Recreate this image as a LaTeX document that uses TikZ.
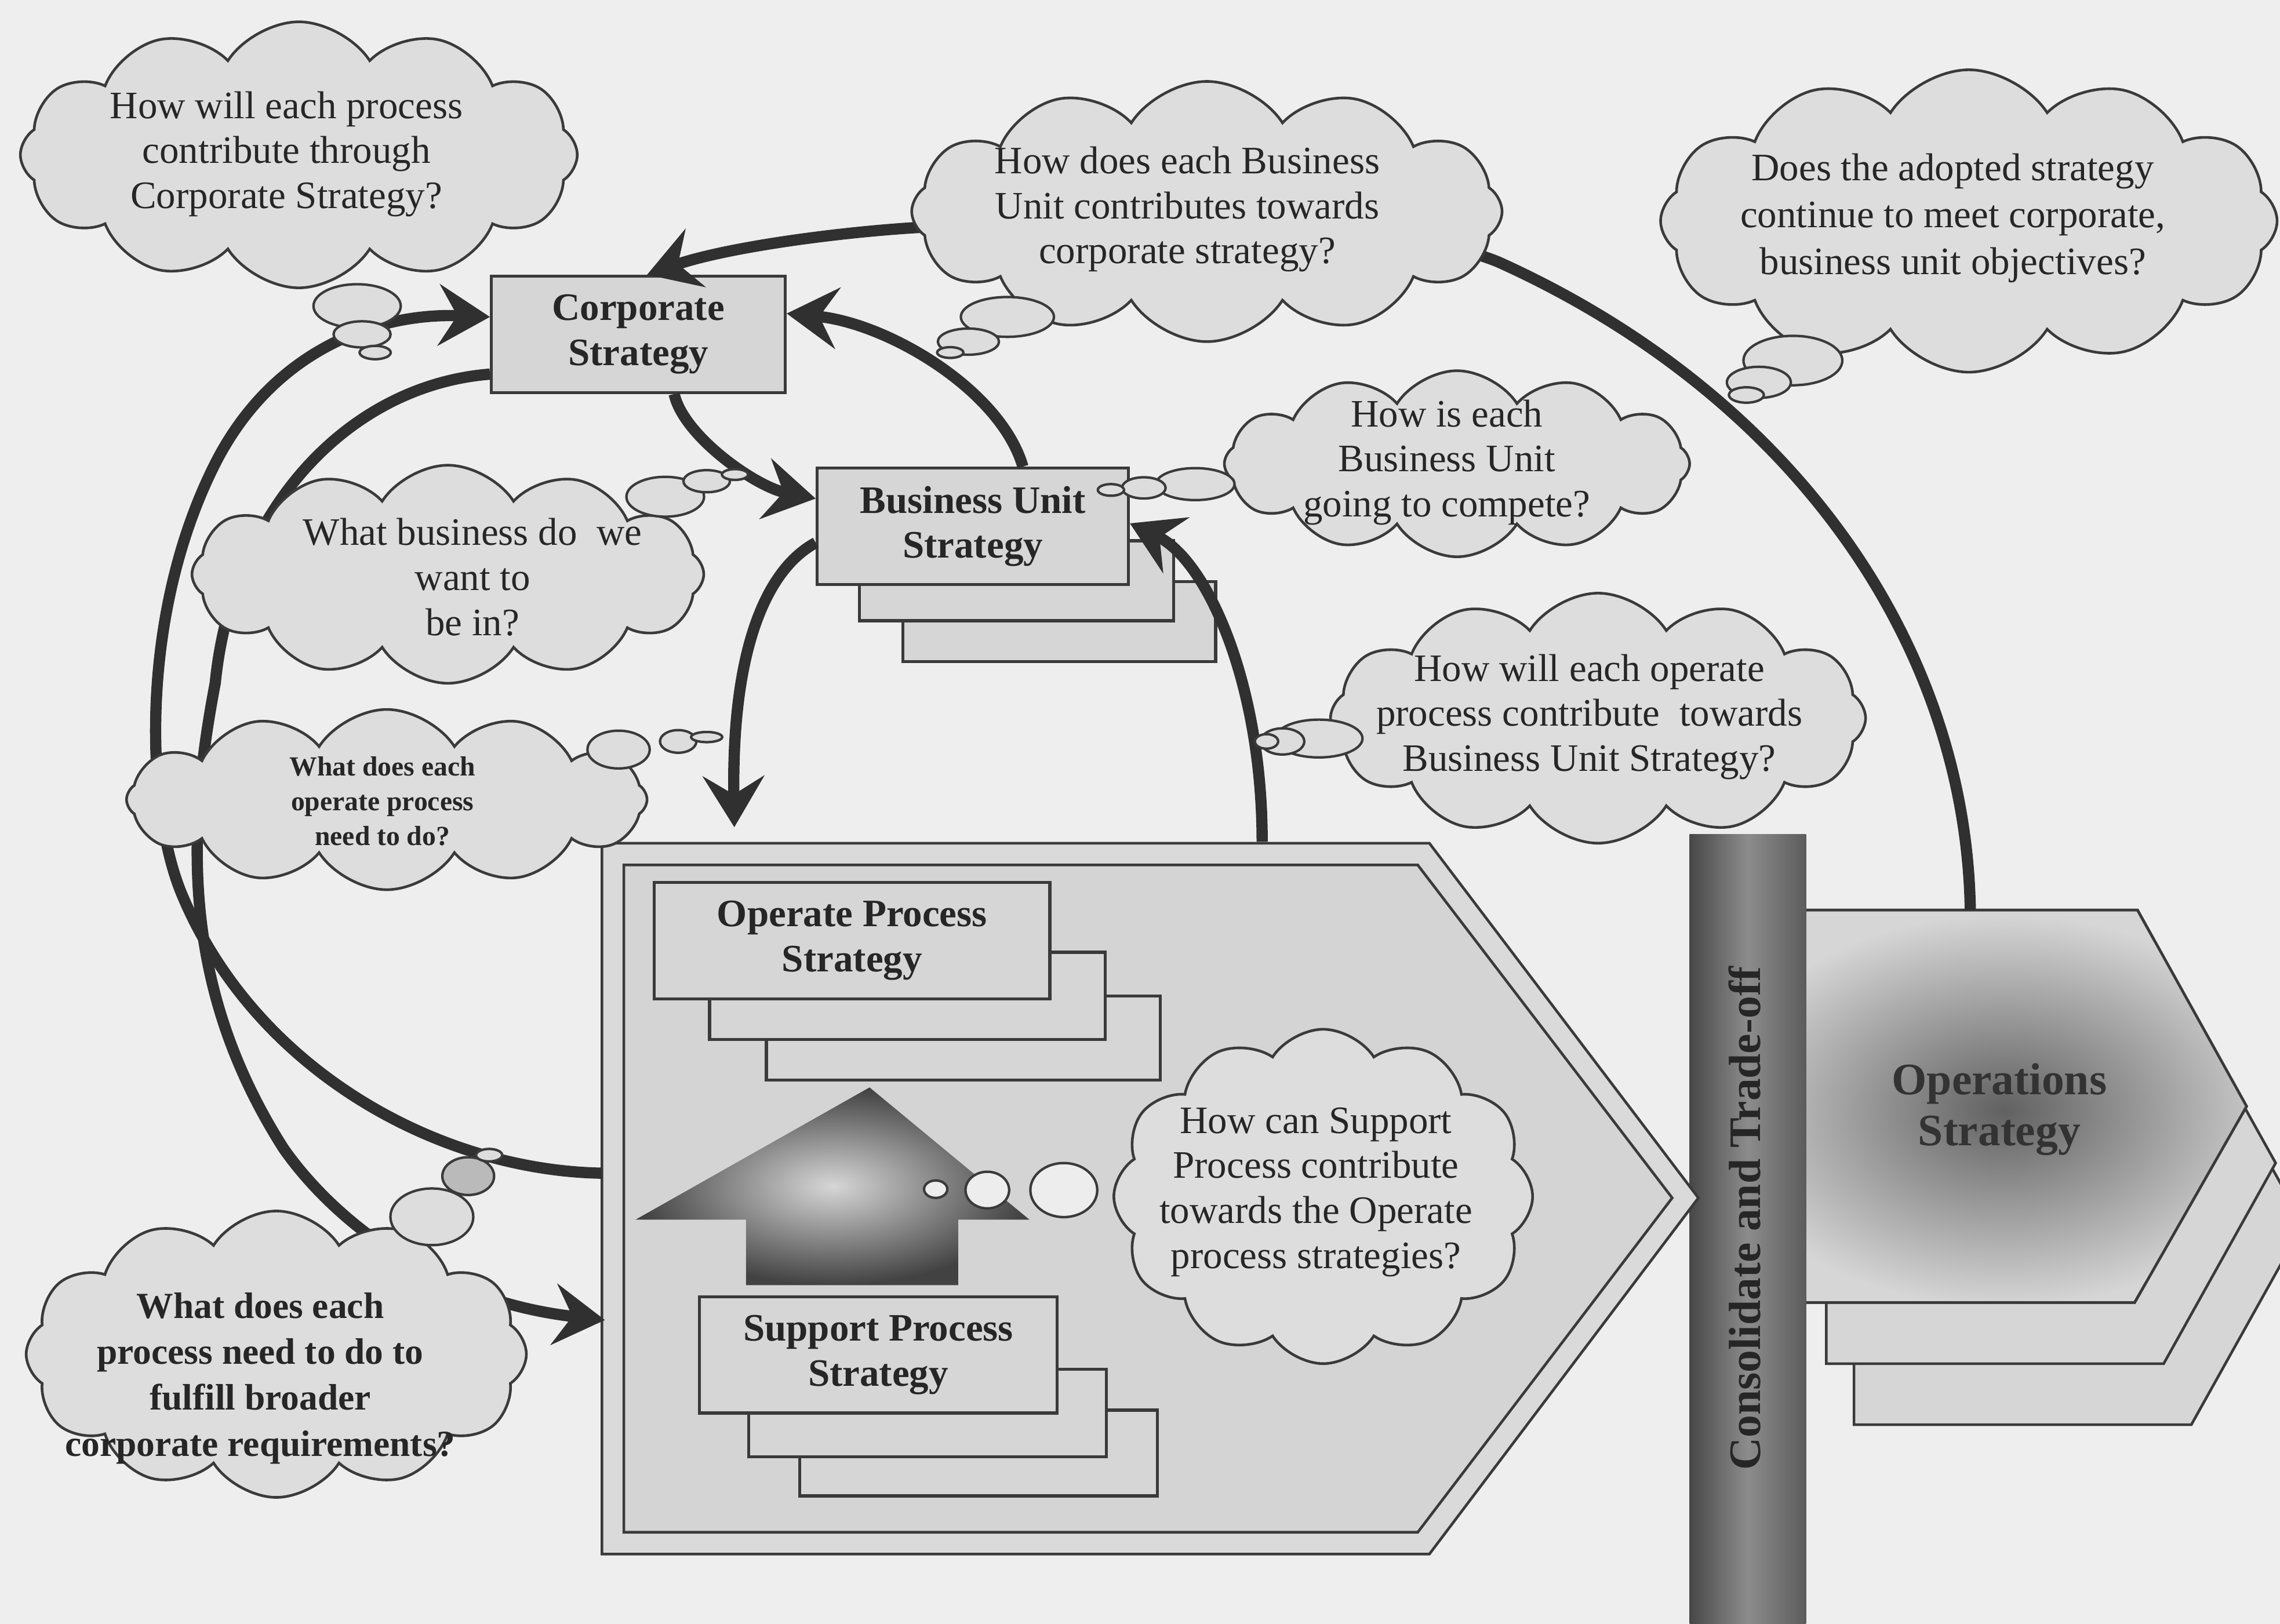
\documentclass[tikz,border=0pt]{standalone}
\usepackage{fontspec}
\setmainfont{Liberation Serif}
\usetikzlibrary{arrows.meta,shapes.symbols}

\definecolor{bg}{HTML}{EEEEEE}
\definecolor{boxfill}{HTML}{D6D6D6}
\definecolor{cloudfill}{HTML}{DDDDDD}
\definecolor{pentfill}{HTML}{DADADA}
\definecolor{pentinner}{HTML}{D4D4D4}
\definecolor{ink}{HTML}{3A3A3A}
\definecolor{arrowink}{HTML}{303030}
\definecolor{txt}{HTML}{262626}

\def\pu{0.025cm}

\begin{document}
\begin{tikzpicture}[x=0.025cm,y=-0.025cm,
  stratbox/.style={draw=ink, line width=1.5pt, fill=boxfill, inner sep=0pt, align=center,
    text=txt, font=\fontsize{19}{22}\selectfont\bfseries},
  backbox/.style={draw=ink, line width=1.5pt, fill=boxfill},
  thought/.style={cloud, cloud puffs=12, cloud puff arc=115, cloud ignores aspect,
    draw=ink, line width=1.3pt, fill=cloudfill, inner sep=0pt},
  bubble/.style={draw=ink, line width=1.2pt, fill=cloudfill},
  qtext/.style={align=center, inner sep=0pt, text=txt, font=\fontsize{19}{22}\selectfont},
  flow/.style={draw=arrowink, line width=5.5pt, -{Stealth[length=25pt,width=30pt,inset=9pt]}},
]
\useasboundingbox (0,0) rectangle (1568,1117);
\fill[bg] (0,0) rectangle (1568,1117);

% ---------- operations strategy (stacked pentagons) ----------
\filldraw[fill=boxfill, draw=ink, line width=1.3pt]
  (1275,704) -- (1507,704) -- (1584,842) -- (1507,980) -- (1275,980) -- cycle;
\filldraw[fill=boxfill, draw=ink, line width=1.3pt]
  (1256,662) -- (1488,662) -- (1565,800) -- (1488,938) -- (1256,938) -- cycle;
\filldraw[fill=boxfill, draw=ink, line width=1.3pt]
  (1240,626) -- (1470,626) -- (1545,761) -- (1468,896) -- (1240,896) -- cycle;
\begin{scope}
  \clip (1240,626) -- (1470,626) -- (1545,761) -- (1468,896) -- (1240,896) -- cycle;
  \shade[inner color=black!62, outer color=boxfill] (1378,764) ellipse [x radius=200, y radius=135];
\end{scope}
\draw[draw=ink, line width=1.3pt]
  (1240,626) -- (1470,626) -- (1545,761) -- (1468,896) -- (1240,896) -- cycle;
\node[align=center, text=black!80, font=\fontsize{22}{25}\selectfont\bfseries] (ops) at (1375,763)
  {Operations\\Strategy};
\coordinate (opsTop) at (1355,626);

% ---------- consolidate bar ----------
\shade[left color=black!72, right color=black!64, middle color=black!45]
  (1162,574) rectangle (1242,1117);
\node[rotate=90, text=black!85, font=\fontsize{22}{24}\selectfont\bfseries] (trade) at (1200,838)
  {Consolidate and Trade-off};

% ---------- process pentagon ----------
\filldraw[fill=pentfill, draw=ink, line width=1.3pt]
  (414,580) -- (983,580) -- (1168,824) -- (983,1069) -- (414,1069) -- cycle;
\filldraw[fill=pentinner, draw=ink, line width=1.3pt]
  (429,595) -- (975,595) -- (1150,824) -- (975,1054) -- (429,1054) -- cycle;
\coordinate (procIn) at (414,807);
\coordinate (procArr) at (416,908);
\coordinate (procDown) at (505,569);
\coordinate (procUp) at (868,579);

% operate process stack
\draw[backbox] (527,685) rectangle (798,743);
\draw[backbox] (488,655) rectangle (760,715);
\node[stratbox, minimum width=272*\pu, minimum height=80*\pu] (operate) at (586,647)
  {Operate Process\\Strategy};

% support process stack
\draw[backbox] (550,970) rectangle (796,1029);
\draw[backbox] (515,942) rectangle (761,1002);
\node[stratbox, minimum width=246*\pu, minimum height=80*\pu] (support) at (604,932)
  {Support Process\\Strategy};

% shaded block arrow from support to operate
\shade[inner color=black!16, outer color=black!74]
  (598,748) -- (708,839) -- (659,839) -- (659,884) -- (513,884) -- (513,839) -- (437,839) -- cycle;

% ---------- corporate and business unit ----------
\node[stratbox, minimum width=202*\pu, minimum height=80*\pu] (corp) at (439,230)
  {Corporate\\Strategy};
\draw[backbox] (621,400) rectangle (836,455);
\draw[backbox] (591,372) rectangle (807,427);
\node[stratbox, minimum width=214*\pu, minimum height=80*\pu] (bu) at (669,362)
  {Business Unit\\Strategy};

% ---------- connectors ----------
% process -> corporate (outer left loop)
\draw[flow] (procIn) .. controls (300,805) and (175,735) .. (125,615)
  .. controls (100,555) and (95,420) .. (150,315)
  .. controls (190,240) and (260,215) .. (corp.west |- 0,218);
% corporate -> process (inner left loop)
\draw[flow] (corp.195) .. controls (240,265) and (160,350) .. (148,470)
  .. controls (128,575) and (125,680) .. (195,790)
  .. controls (230,840) and (300,895) .. (procArr);
% operations -> corporate (large right loop)
\draw[flow] (opsTop) .. controls (1352,440) and (1230,270) .. (1030,180)
  .. controls (950,148) and (760,150) .. (640,156)
  .. controls (580,159) and (500,170) .. (corp.north -| 445,0);
% corporate -> business unit
\draw[flow] (corp.-59) .. controls (470,300) and (520,335) .. (bu.170);
% business unit -> corporate
\draw[flow] (bu.50) .. controls (688,268) and (610,222) .. (corp.8);
% business unit -> process
\draw[flow] (bu.186) .. controls (530,390) and (503,440) .. (procDown);
% process -> business unit
\draw[flow] (procUp) .. controls (868,470) and (830,385) .. (bu.east |- 0,360);

% ---------- thought clouds ----------
\node[thought, minimum width=383*\pu, minimum height=183*\pu] (q1) at (205.5,106.5) {};
\node[qtext] (t1) at (197,106) {How will each process\\contribute through\\Corporate Strategy?};
\draw[bubble] (245.6,210.5) ellipse [x radius=30, y radius=15];
\draw[bubble] (249,230) ellipse [x radius=19.6, y radius=9];
\draw[bubble] (258,242.5) ellipse [x radius=10.7, y radius=4.6];

\node[thought, minimum width=406*\pu, minimum height=179*\pu] (q2) at (830,145.5) {};
\node[qtext] (t2) at (816.5,144) {How does each Business\\Unit contributes towards\\corporate strategy?};
\draw[bubble] (692.8,218) ellipse [x radius=32, y radius=13.7];
\draw[bubble] (666,235) ellipse [x radius=21, y radius=9];
\draw[bubble] (653.5,242.5) ellipse [x radius=9, y radius=3.7];

\node[thought, minimum width=424*\pu, minimum height=208*\pu] (q3) at (1354,152) {};
\node[qtext, font=\fontsize{19}{23}\selectfont] (t3) at (1343,150)
  {Does the adopted strategy\\continue to meet corporate,\\business unit objectives?};
\draw[bubble] (1233,248) ellipse [x radius=34, y radius=17];
\draw[bubble] (1209.6,263) ellipse [x radius=22, y radius=10.7];
\draw[bubble] (1201,271.7) ellipse [x radius=12, y radius=5.3];

\node[thought, minimum width=320*\pu, minimum height=128*\pu] (q4) at (1002,319) {};
\node[qtext] (t4) at (995,318) {How is each\\Business Unit\\going to compete?};
\draw[bubble] (822,333) ellipse [x radius=27, y radius=11];
\draw[bubble] (786.6,335.6) ellipse [x radius=15, y radius=7.3];
\draw[bubble] (764,337) ellipse [x radius=9, y radius=4];

\node[thought, minimum width=352*\pu, minimum height=150*\pu] (q5) at (308,395) {};
\node[qtext] (t5) at (325,397) {What business do\ \ we\\want to\\be in?};
\draw[bubble] (457.5,341.7) ellipse [x radius=26.7, y radius=13.7];
\draw[bubble] (486,331) ellipse [x radius=16, y radius=7.6];
\draw[bubble] (505.5,326.4) ellipse [x radius=9, y radius=3.7];

\node[thought, minimum width=358*\pu, minimum height=124*\pu] (q6) at (266,550) {};
\node[qtext, font=\fontsize{13.5}{17}\selectfont\bfseries] (t6) at (263,551)
  {What does each\\operate process\\need to do?};
\draw[bubble] (425.4,515.6) ellipse [x radius=21.4, y radius=13];
\draw[bubble] (466.4,510) ellipse [x radius=12.5, y radius=7.8];
\draw[bubble] (486,507) ellipse [x radius=10.7, y radius=3.5];

\node[thought, minimum width=368*\pu, minimum height=172*\pu] (q7) at (1099,494) {};
\node[qtext] (t7) at (1093,493)
  {How will each operate\\process contribute\ \ towards\\Business Unit Strategy?};
\draw[bubble] (907,508) ellipse [x radius=30, y radius=13];
\draw[bubble] (882,510) ellipse [x radius=15, y radius=9];
\draw[bubble] (871,510) ellipse [x radius=8, y radius=5];

\node[thought, minimum width=344*\pu, minimum height=197*\pu] (q8) at (190,931.5) {};
\node[qtext, font=\fontsize{18}{22.5}\selectfont\bfseries] (t8) at (179,948)
  {What does each\\process need to do to\\fulfill broader\\corporate requirements?};
\draw[bubble] (297,837) ellipse [x radius=28.5, y radius=19.5];
\draw[bubble, fill=black!27] (322,809) ellipse [x radius=17.8, y radius=13];
\draw[bubble] (336.4,794.6) ellipse [x radius=9, y radius=4.3];

\node[thought, minimum width=288*\pu, minimum height=230*\pu] (q9) at (910,823) {};
\node[qtext] (t9) at (905,820)
  {How can Support\\Process contribute\\towards the Operate\\process strategies?};
\draw[bubble, fill=black!7] (731.6,818.6) ellipse [x radius=23, y radius=18.6];
\draw[bubble, fill=black!7] (679,818.6) ellipse [x radius=15, y radius=12.6];
\draw[bubble, fill=black!7] (643.5,818) ellipse [x radius=8, y radius=6];

\end{tikzpicture}
\end{document}
